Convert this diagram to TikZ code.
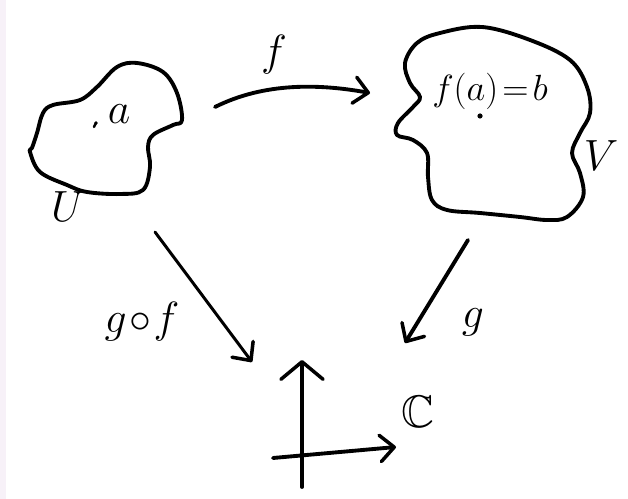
\documentclass[tikz,border=0pt]{standalone}
\usepackage{amssymb}
\usetikzlibrary{arrows.meta}

\definecolor{edgetint}{HTML}{F7F1F8}

\tikzset{
  ink/.style={line width=2.2pt, line cap=round, line join=round},
  maparrow/.style={ink, -{Straight Barb[length=8pt,width=15pt,line width=2pt,round]}},
  hand/.style={font=\fontsize{26}{26}\selectfont, inner sep=0pt},
}

\begin{document}
\begin{tikzpicture}[x=0.02cm,y=-0.02cm]
\fill[white] (0,0) rectangle (628,499);
\fill[edgetint] (0,0) rectangle (6,499);
\useasboundingbox (0,0) rectangle (628,499);

% Set U with point a
\draw[ink] plot[smooth cycle, tension=0.6] coordinates {
  (32,148) (37,133) (43,113) (53,105) (80,100) (97,87) (117,67) (137,63)
  (163,72) (177,93) (182,120) (173,125) (153,135) (148,147) (150,167)
  (143,190) (120,194) (87,192) (67,185) (40,172) (30,152)};
\fill (96,123) circle (1.8);
\draw[ink, line width=1.4pt] (96,123) -- (94,127);
\node[hand] (a) at (119,114) {$a$};
\node[hand] (u) at (68,207) {$U$};

% Set V with image point
\draw[ink] plot[smooth cycle, tension=0.6] coordinates {
  (440,33) (482,27) (530,40) (570,60) (587,87) (590,113) (580,133)
  (572,153) (580,173) (583,197) (567,217) (547,220) (520,217) (480,213)
  (447,210) (432,200) (428,177) (427,153) (413,140) (397,135) (398,123)
  (413,107) (420,97) (410,83) (405,63) (417,43)};
\node[font=\fontsize{20}{20}\selectfont, inner sep=0pt] (fab) at (490,91) {$f(a)\!=\!b$};
\fill (480,116) circle (2.6);
\node[hand, font=\fontsize{24}{24}\selectfont] (v) at (601,156) {$V$};

% Map f : U -> V
\coordinate (fs) at (215,107);
\coordinate (fe) at (370,93);
\draw[maparrow] (fs) .. controls (265,82) and (320,84) .. (fe);
\node[hand] (f) at (274,55) {$f$};

% Target C and its axes
\coordinate (yb) at (302,487);
\coordinate (yt) at (302,360);
\coordinate (xl) at (273,458);
\coordinate (xr) at (396,447);
\draw[ink, -{Straight Barb[length=10pt,width=24pt,line width=2pt,round]}] (yb) -- (yt);
\draw[maparrow] (xl) -- (xr);
\node[hand] (c) at (418,412) {$\mathbb{C}$};

% Maps g and g o f into C
\coordinate (gofs) at (155,232);
\coordinate (gofe) at (252,362);
\draw[maparrow, line width=1.7pt] (gofs) -- (gofe);
\node[hand, font=\fontsize{30}{30}\selectfont] (gof) at (142,322) {$g\!\circ\! f$};
\coordinate (gs) at (468,240);
\coordinate (ge) at (405,343);
\draw[maparrow] (gs) -- (ge);
\node[hand, font=\fontsize{32}{32}\selectfont] (g) at (473,322) {$g$};
\end{tikzpicture}
\end{document}
